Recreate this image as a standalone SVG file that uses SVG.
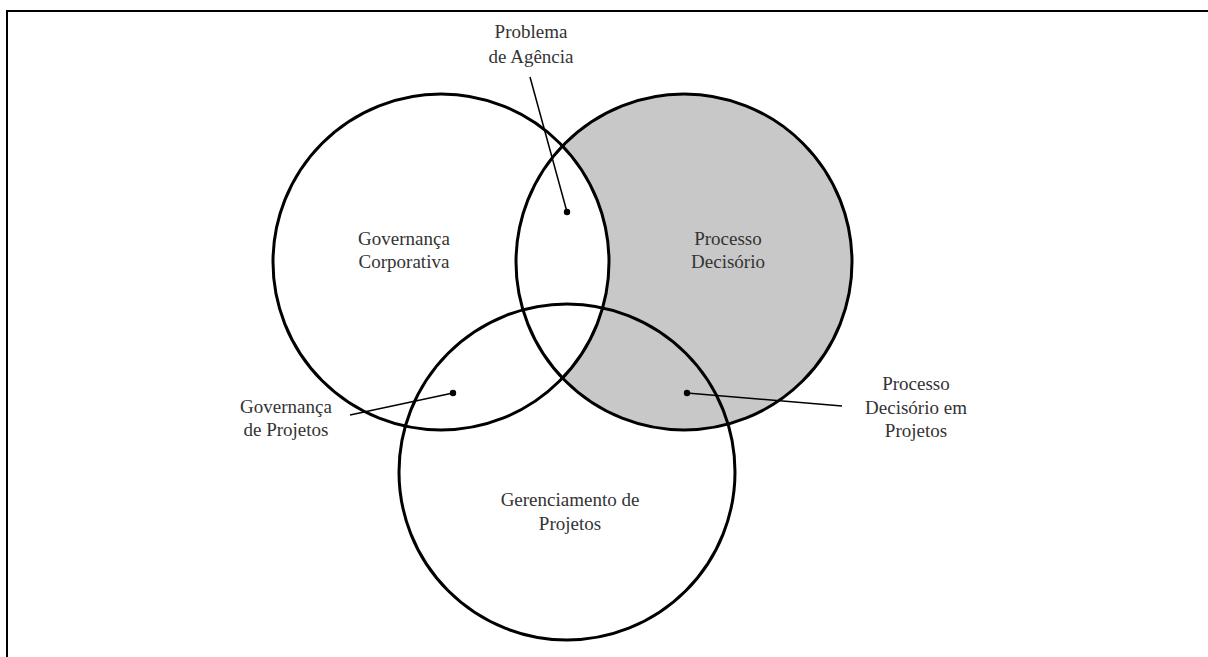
<svg xmlns="http://www.w3.org/2000/svg" width="1208" height="657" viewBox="0 0 1208 657">
  <style>
    .ring { fill: none; stroke: #000; stroke-width: 3; }
    .lbl { font-size: 19px; fill: #333; text-anchor: middle; }
    .lead { stroke: #000; stroke-width: 1.5; fill: none; }
    .dot { fill: #000; }
  </style>
  <defs>
    <clipPath id="outsideA">
      <path d="M0 0H1208V657H0Z M441 262m-168 0a168 168 0 1 0 336 0a168 168 0 1 0 -336 0Z" clip-rule="evenodd"/>
    </clipPath>
  </defs>
  <rect width="1208" height="657" fill="#fff"/>

  <!-- frame: top and left edges -->
  <path d="M7 657V11H1208" fill="none" stroke="#000" stroke-width="2"/>

  <!-- shaded region: decision process outside corporate governance -->
  <circle cx="684" cy="262" r="168" fill="#c8c8c8" clip-path="url(#outsideA)"/>

  <g font-family="'Liberation Serif', Tinos, 'DejaVu Serif', 'Noto Serif', Times, serif">
    <g id="node-governanca-corporativa">
      <circle class="ring" cx="441" cy="262" r="168"/>
      <text class="lbl" x="404" y="245">Governança</text>
      <text class="lbl" x="404" y="268">Corporativa</text>
    </g>

    <g id="node-processo-decisorio">
      <circle class="ring" cx="684" cy="262" r="168"/>
      <text class="lbl" x="728" y="245">Processo</text>
      <text class="lbl" x="728" y="268">Decisório</text>
    </g>

    <g id="node-gerenciamento-projetos">
      <circle class="ring" cx="567" cy="472" r="168"/>
      <text class="lbl" x="570" y="506">Gerenciamento de</text>
      <text class="lbl" x="570" y="530">Projetos</text>
    </g>

    <g id="label-problema-agencia">
      <text class="lbl" x="531" y="38">Problema</text>
      <text class="lbl" x="531" y="63">de Agência</text>
    </g>

    <g id="label-governanca-projetos">
      <text class="lbl" x="286" y="413">Governança</text>
      <text class="lbl" x="286" y="436">de Projetos</text>
    </g>

    <g id="label-decisorio-projetos">
      <text class="lbl" x="916" y="390">Processo</text>
      <text class="lbl" x="916" y="414">Decisório em</text>
      <text class="lbl" x="916" y="437">Projetos</text>
    </g>
  </g>

  <g id="connectors">
    <line class="lead" x1="530" y1="77" x2="567" y2="212"/>
    <circle class="dot" cx="567" cy="212" r="3.2"/>
    <line class="lead" x1="350" y1="415" x2="453" y2="393"/>
    <circle class="dot" cx="453" cy="393" r="3.2"/>
    <line class="lead" x1="687" y1="393" x2="842" y2="406"/>
    <circle class="dot" cx="687" cy="393" r="3.2"/>
  </g>
</svg>
